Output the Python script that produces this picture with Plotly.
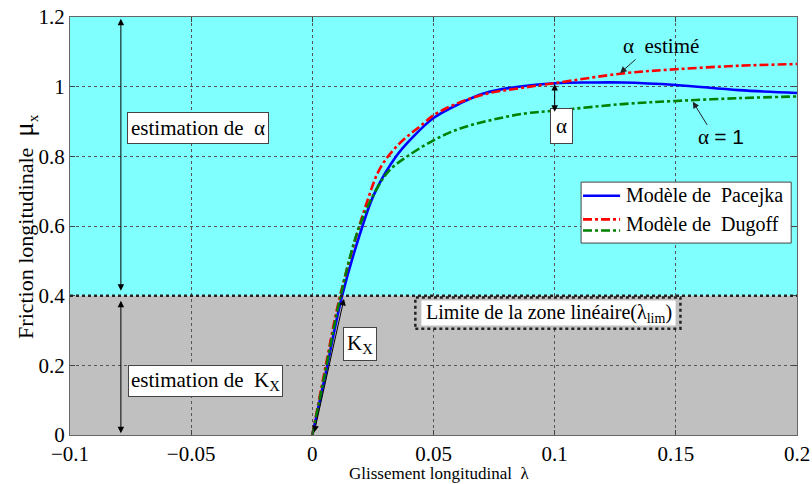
import plotly.graph_objects as go

# Longitudinal slip (lambda) and friction coefficient curves
pacejka_x = [0, 0.005, 0.0123, 0.0207, 0.0256, 0.0346, 0.0416, 0.05, 0.061, 0.071, 0.085, 0.1, 0.115, 0.128, 0.15, 0.176, 0.2]
pacejka_y = [0, 0.16, 0.4, 0.6, 0.693, 0.8, 0.856, 0.91, 0.952, 0.981, 1.0, 1.01, 1.012, 1.012, 1.005, 0.99, 0.982]

dugoff_est_x = [0, 0.005, 0.0118, 0.0228, 0.0283, 0.036, 0.0458, 0.05, 0.0598, 0.072, 0.085, 0.1, 0.128, 0.15, 0.176, 0.2]
dugoff_est_y = [0, 0.18, 0.41, 0.674, 0.77, 0.837, 0.894, 0.918, 0.952, 0.98, 0.995, 1.01, 1.038, 1.05, 1.06, 1.065]

dugoff_one_x = [0, 0.005, 0.012, 0.0193, 0.027, 0.0318, 0.0388, 0.05, 0.061, 0.0737, 0.0877, 0.1, 0.128, 0.15, 0.176, 0.2]
dugoff_one_y = [0, 0.17, 0.41, 0.597, 0.712, 0.76, 0.798, 0.846, 0.88, 0.904, 0.923, 0.931, 0.95, 0.959, 0.967, 0.972]

x_ticks = [-0.1, -0.05, 0, 0.05, 0.1, 0.15, 0.2]
y_ticks = [0, 0.2, 0.4, 0.6, 0.8, 1.0, 1.2]
x_range = [-0.1, 0.2]
y_range = [0, 1.2]
lambda_lim_mu = 0.4

SERIF = "Times New Roman, Liberation Serif, DejaVu Serif, serif"

fig = go.Figure()

# Background zones: estimation of alpha (top) and linear zone (bottom)
fig.add_shape(type="rect", xref="x", yref="y", x0=x_range[0], x1=x_range[1],
              y0=lambda_lim_mu, y1=y_range[1], fillcolor="#80FFFF", line_width=0, layer="below")
fig.add_shape(type="rect", xref="x", yref="y", x0=x_range[0], x1=x_range[1],
              y0=y_range[0], y1=lambda_lim_mu, fillcolor="#C0C0C0", line_width=0, layer="below")

fig.add_trace(go.Scatter(x=pacejka_x, y=pacejka_y, mode="lines", line_shape="spline",
                         line=dict(color="#0000FF", width=2.6), showlegend=False))
fig.add_trace(go.Scatter(x=dugoff_est_x, y=dugoff_est_y, mode="lines", line_shape="spline",
                         line=dict(color="#FF0000", width=2.6, dash="dashdot"), showlegend=False))
fig.add_trace(go.Scatter(x=dugoff_one_x, y=dugoff_one_y, mode="lines", line_shape="spline",
                         line=dict(color="#008000", width=2.6, dash="dashdot"), showlegend=False))

# Limit of the linear zone
fig.add_shape(type="line", xref="x", yref="y", x0=x_range[0], x1=x_range[1],
              y0=lambda_lim_mu, y1=lambda_lim_mu, line=dict(color="#222222", width=2.5, dash="dot"))

# Label box for the linear-zone limit (dotted frame, white inner box)
fig.add_shape(type="rect", xref="x", yref="y", x0=0.0425, x1=0.1519, y0=0.305, y1=0.395,
              line=dict(color="#222222", width=2.5, dash="dot"), fillcolor="#C0C0C0")
fig.add_shape(type="rect", xref="x", yref="y", x0=0.0450, x1=0.1499, y0=0.314, y1=0.386,
              line_width=0, fillcolor="white")
fig.add_annotation(x=0.0975, y=0.350, xref="x", yref="y", showarrow=False,
                   text="Limite de la zone linéaire(λ<sub>lim</sub>)",
                   font=dict(family=SERIF, size=20, color="black"))

# Manual legend
fig.add_shape(type="rect", xref="x", yref="y", x0=0.1109, x1=0.1976, y0=0.551, y1=0.726,
              line=dict(color="#444444", width=1), fillcolor="white")
fig.add_shape(type="line", xref="x", yref="y", x0=0.1117, x1=0.127, y0=0.687, y1=0.687,
              line=dict(color="#0000FF", width=2.6))
fig.add_shape(type="line", xref="x", yref="y", x0=0.1117, x1=0.127, y0=0.619, y1=0.619,
              line=dict(color="#FF0000", width=2.6, dash="dashdot"))
fig.add_shape(type="line", xref="x", yref="y", x0=0.1117, x1=0.127, y0=0.587, y1=0.587,
              line=dict(color="#008000", width=2.6, dash="dashdot"))
fig.add_annotation(x=0.1285, y=0.687, xref="x", yref="y", showarrow=False, xanchor="left",
                   text="Modèle de  Pacejka", font=dict(family=SERIF, size=20, color="black"))
fig.add_annotation(x=0.1285, y=0.604, xref="x", yref="y", showarrow=False, xanchor="left",
                   text="Modèle de  Dugoff", font=dict(family=SERIF, size=20, color="black"))

# Boxed labels
box = dict(bgcolor="white", bordercolor="#444444", borderwidth=1)
fig.add_annotation(x=-0.0472, y=0.881, xref="x", yref="y", showarrow=False,
                   text="estimation de  α", font=dict(family=SERIF, size=21, color="black"),
                   borderpad=3, **box)
fig.add_annotation(x=-0.0439, y=0.155, xref="x", yref="y", showarrow=False,
                   text="estimation de  K<sub>X</sub>", font=dict(family=SERIF, size=21, color="black"),
                   borderpad=2, **box)
fig.add_annotation(x=0.0198, y=0.261, xref="x", yref="y", showarrow=False,
                   text="K<sub>X</sub>", font=dict(family=SERIF, size=21, color="black"),
                   borderpad=3, **box)
fig.add_annotation(x=0.1029, y=0.887, xref="x", yref="y", showarrow=False,
                   text="α", font=dict(family=SERIF, size=21, color="black"),
                   borderpad=5, **box)

# Double-headed arrows
arrow = dict(xref="x", yref="y", axref="x", ayref="y", text="", showarrow=True,
             arrowhead=2, startarrowhead=2, arrowside="end+start", arrowsize=1.3,
             startarrowsize=1.3, arrowwidth=1, arrowcolor="black")
fig.add_annotation(x=-0.079, y=1.195, ax=-0.079, ay=0.41, **arrow)
fig.add_annotation(x=-0.079, y=0.005, ax=-0.079, ay=0.39, **arrow)
fig.add_annotation(x=0.0008, y=0.008, ax=0.0132, ay=0.395, **arrow)
fig.add_annotation(x=0.1, y=0.928, ax=0.1, ay=1.012, **arrow)

# Pointer annotations
fig.add_annotation(x=0.127, y=1.039, ax=0.134, ay=1.082, xref="x", yref="y", axref="x", ayref="y",
                   text="", showarrow=True, arrowhead=2, arrowsize=1.3, arrowwidth=1, arrowcolor="#222222")
fig.add_annotation(x=0.1437, y=1.116, xref="x", yref="y", showarrow=False,
                   text="α  estimé", font=dict(family=SERIF, size=21, color="black"))
fig.add_annotation(x=0.157, y=0.957, ax=0.1633, ay=0.886, xref="x", yref="y", axref="x", ayref="y",
                   text="", showarrow=True, arrowhead=2, arrowsize=1.3, arrowwidth=1, arrowcolor="#222222")
fig.add_annotation(x=0.1688, y=0.855, xref="x", yref="y", showarrow=False,
                   text="α <span style=\"font-family:Arial, 'Liberation Sans', sans-serif\">= 1</span>",
                   font=dict(family=SERIF, size=21, color="black"))

# Axis titles
fig.add_annotation(x=-0.062, y=0.5, xref="paper", yref="paper", showarrow=False, textangle=-90,
                   xanchor="center", yanchor="middle",
                   text="Friction longitudinale  <span style=\"font-size:27px\">μ</span><sub>x</sub>",
                   font=dict(family=SERIF, size=22, color="black"))
fig.add_annotation(x=0.508, y=-0.092, xref="paper", yref="paper", showarrow=False,
                   xanchor="center", yanchor="middle",
                   text="Glissement longitudinal  λ",
                   font=dict(family=SERIF, size=17, color="black"))

axis_common = dict(showline=True, linecolor="#666666", linewidth=1, mirror="ticks",
                   ticks="inside", ticklen=5, tickcolor="#444444", automargin=False,
                   showgrid=True, gridcolor="#555555", griddash="dot", gridwidth=1,
                   zeroline=False, tickfont=dict(family=SERIF, size=21, color="black"))

fig.update_xaxes(range=x_range, tickvals=x_ticks,
                 ticktext=[("−" + f"{abs(v):g}") if v < 0 else f"{v:g}" for v in x_ticks],
                 **axis_common)
fig.update_yaxes(range=y_range, tickvals=y_ticks, ticktext=[f"{v:g}" for v in y_ticks], **axis_common)

fig.update_layout(width=812, height=484, margin=dict(l=70, r=15, t=17, b=49, autoexpand=False),
                  paper_bgcolor="white", plot_bgcolor="white", showlegend=False)

fig.write_html("out.html")
